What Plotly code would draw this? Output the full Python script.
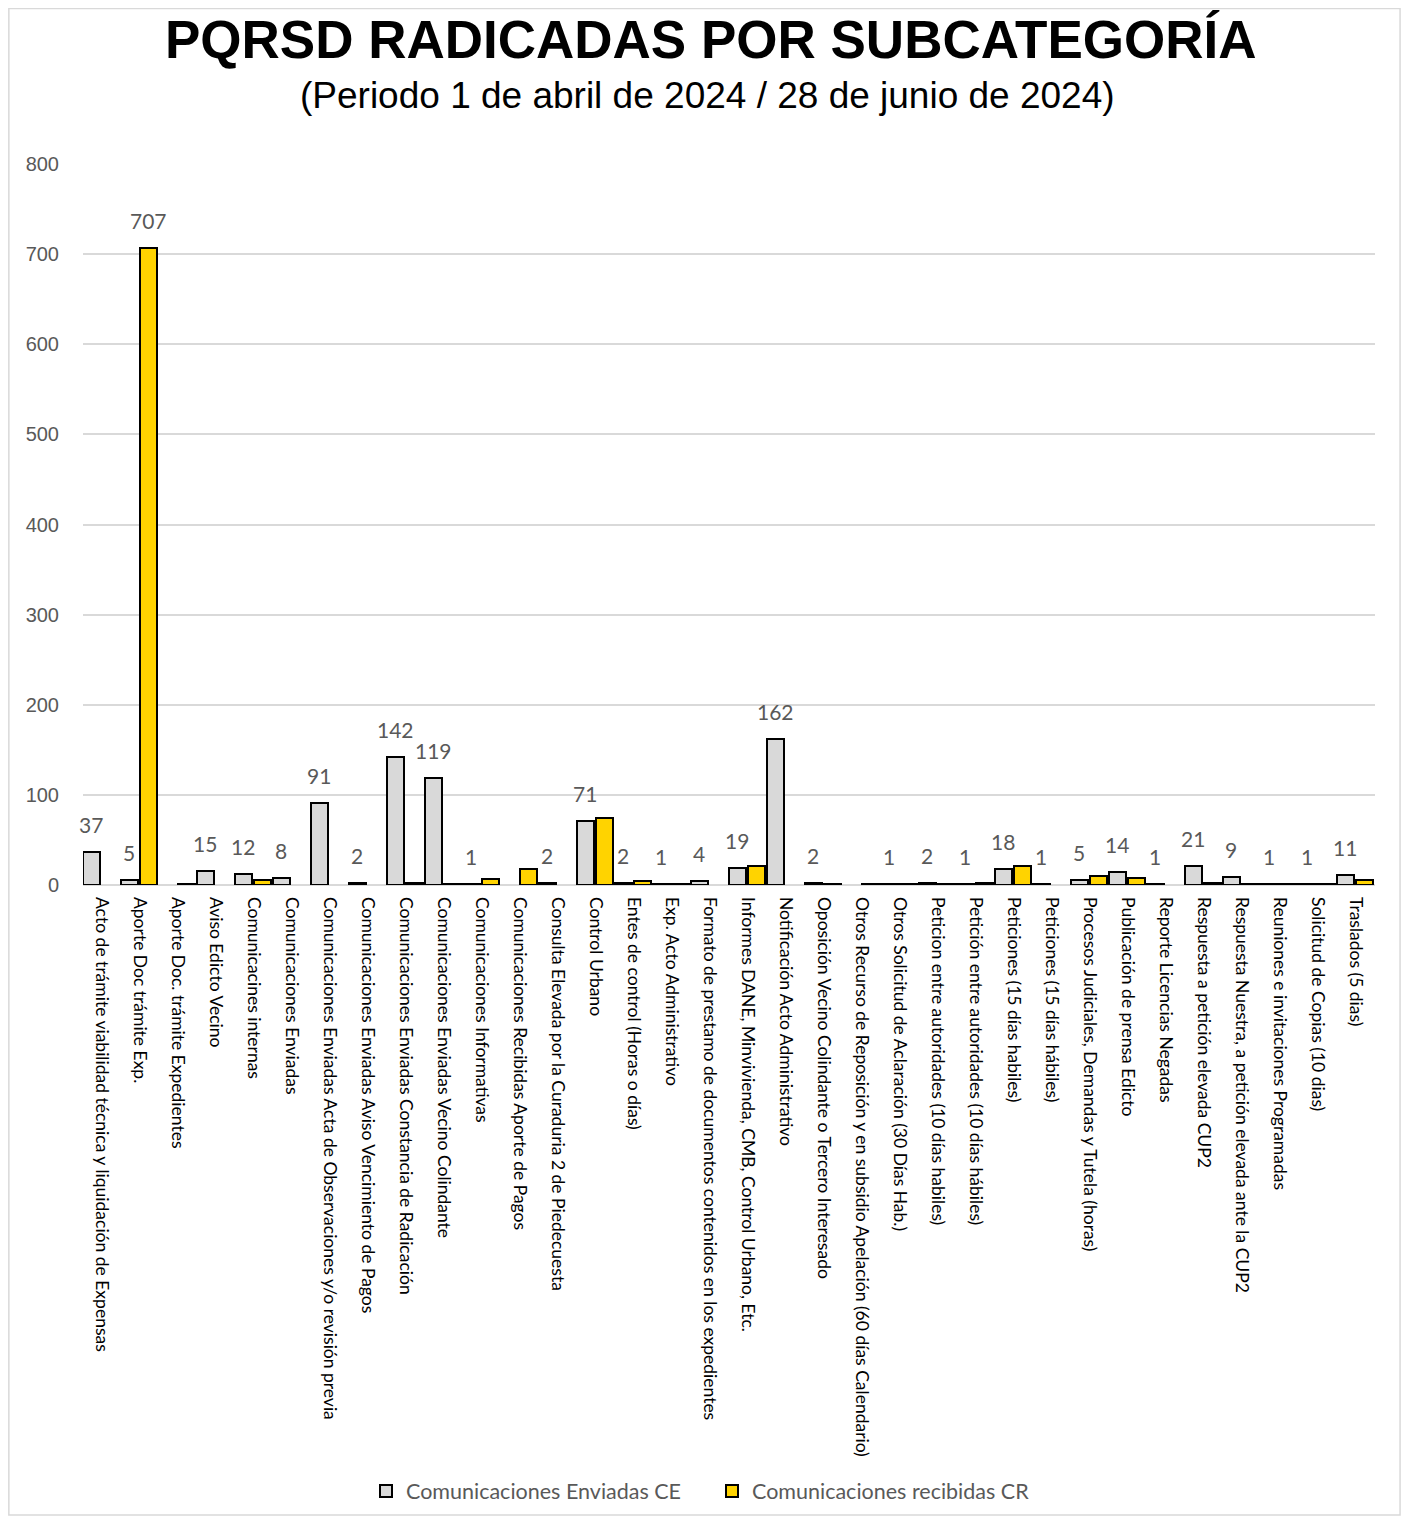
import plotly.graph_objects as go

categories = [
    "Acto de trámite viabilidad técnica y liquidación de Expensas",
    "Aporte Doc trámite Exp.",
    "Aporte Doc. trámite Expedientes",
    "Aviso Edicto Vecino",
    "Comunicacines internas",
    "Comunicaciones Enviadas",
    "Comunicaciones Enviadas Acta de Observaciones y/o revisión previa",
    "Comunicaciones Enviadas Aviso Vencimiento de Pagos",
    "Comunicaciones Enviadas Constancia de Radicación",
    "Comunicaciones Enviadas Vecino Colindante",
    "Comunicaciones Informativas",
    "Comunicaciones Recibidas Aporte de Pagos",
    "Consulta Elevada por la Curaduria 2 de Piedecuesta",
    "Control Urbano",
    "Entes de control (Horas o días)",
    "Exp. Acto Administrativo",
    "Formato de prestamo de documentos contenidos en los expedientes",
    "Informes DANE, Minvivienda, CMB, Control Urbano, Etc.",
    "Notificación Acto Administrativo",
    "Oposición Vecino Colindante o Tercero Interesado",
    "Otros Recurso de Reposición y en subsidio Apelación (60 días Calendario)",
    "Otros Solicitud de Aclaración (30 Días Hab.)",
    "Peticion entre autoridades (10 días habiles)",
    "Petición entre autoridades (10 días hábiles)",
    "Peticiones (15 días habiles)",
    "Peticiones (15 días hábiles)",
    "Procesos Judiciales, Demandas y Tutela (horas)",
    "Publicación de prensa Edicto",
    "Reporte Licencias Negadas",
    "Respuesta a petición elevada CUP2",
    "Respuesta Nuestra, a petición elevada ante la CUP2",
    "Reuniones e invitaciones Programadas",
    "Solicitud de Copias (10 dias)",
    "Traslados (5 dias)",
]

ce_values = [37, 5, None, 15, 12, 8, 91, 2, 142, 119, 1, None, 2, 71, 2, 1, 4,
             19, 162, 2, None, 1, 2, 1, 18, 1, 5, 14, 1, 21, 9, 1, 1, 11]
cr_values = [None, 707, 1, None, 5, None, None, None, 2, 1, 7, 18, None, 74, 4, 1,
             None, 21, None, 1, 1, 1, 1, 2, 21, None, 10, 8, None, 2, 1, 1, 1, 5]
cr_labelled = [707]

y_ticks = [0, 100, 200, 300, 400, 500, 600, 700, 800]

GRAY = "#d9d9d9"
YELLOW = "#ffd300"
TXT = "#595959"

BAR_W = 0.44

fig = go.Figure()
fig.add_trace(go.Bar(
    name="Comunicaciones Enviadas CE", x=categories, y=ce_values,
    width=BAR_W, offset=-0.5,
    marker=dict(color=GRAY, line=dict(color="#000000", width=2)),
))
fig.add_trace(go.Bar(
    name="Comunicaciones recibidas CR", x=categories, y=cr_values,
    width=BAR_W, offset=0.0,
    marker=dict(color=YELLOW, line=dict(color="#000000", width=2)),
))

annotations = []
for i, v in enumerate(ce_values):
    if v is not None:
        annotations.append(dict(
            x=i - 0.5 + BAR_W / 2, y=v, xref="x", yref="y", text=str(v),
            showarrow=False, yanchor="bottom", yshift=13,
            font=dict(family="Lato", size=21, color=TXT)))
for i, v in enumerate(cr_values):
    if v is not None and v in cr_labelled:
        annotations.append(dict(
            x=i + BAR_W / 2, y=v, xref="x", yref="y", text=str(v),
            showarrow=False, yanchor="bottom", yshift=13,
            font=dict(family="Lato", size=21, color=TXT)))

annotations.append(dict(
    x=0.486, y=1.172, xref="paper", yref="paper", showarrow=False,
    text="<b>PQRSD RADICADAS POR SUBCATEGORÍA</b>", yanchor="middle",
    font=dict(family="Liberation Sans", size=53, color="#000000")))
annotations.append(dict(
    x=0.483, y=1.0957, xref="paper", yref="paper", showarrow=False,
    text="(Periodo 1 de abril de 2024 / 28 de junio de 2024)", yanchor="middle",
    font=dict(family="Liberation Sans", size=37, color="#000000")))

fig.update_layout(
    width=1393, height=1508,
    margin=dict(l=74.7, r=26, t=156, b=631),
    paper_bgcolor="white", plot_bgcolor="white",
    barmode="group", bargap=0, bargroupgap=0,
    showlegend=True,
    legend=dict(orientation="h", xref="container", yref="container",
                x=0.257, xanchor="left", y=1 - 1483 / 1508, yanchor="middle",
                bgcolor="rgba(0,0,0,0)",
                font=dict(family="Lato", size=21.5, color=TXT), itemsizing="constant",
                traceorder="normal", entrywidth=301, itemwidth=30),
    annotations=annotations,
    shapes=[dict(type="rect", xref="paper", yref="paper",
                 x0=-0.0574, x1=1.0194, y0=-0.8738, y1=1.2157,
                 line=dict(color=GRAY, width=1.5), fillcolor="rgba(0,0,0,0)", layer="below")],
)
fig.update_xaxes(
    type="category", range=[-0.5, len(categories) - 0.5], tickangle=90,
    showgrid=False, showline=False, ticks="", ticklabelstandoff=11, automargin=False,
    tickfont=dict(family="Lato", size=17.5, color="#000000"),
)
fig.update_yaxes(
    range=[0, 800], tickvals=y_ticks, showgrid=True, gridcolor=GRAY, gridwidth=1.5,
    zeroline=True, zerolinecolor=GRAY, zerolinewidth=2, showline=False, ticks="",
    automargin=False,
    ticklabelstandoff=23, tickfont=dict(family="Liberation Sans", size=20, color=TXT),
)

fig.write_html("out.html")
